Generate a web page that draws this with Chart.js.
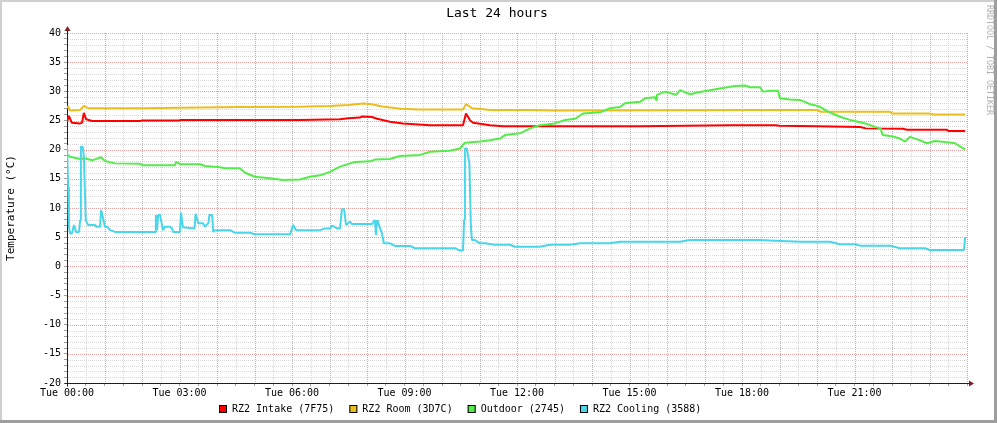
<!DOCTYPE html>
<html>
<head>
<meta charset="utf-8">
<title>Last 24 hours</title>
<script src="https://cdn.jsdelivr.net/npm/chart.js@4.4.1/dist/chart.umd.min.js"></script>
<style>
  html, body { margin: 0; padding: 0; background: #fff; }
  #wrap { width: 997px; height: 423px; }
</style>
</head>
<body>
<div id="wrap"><canvas id="chartCanvas" width="997" height="423"></canvas></div>
<script>
// Series: [hour of day, temperature in °C]
const intakeData = [
  [0, 24.8], [0.05, 25.8], [0.13, 24.6], [0.35, 24.5], [0.4, 24.6], [0.45, 26.3], [0.51, 25.2],
  [0.67, 24.9], [1.95, 24.9], [2.0, 25.0], [3.0, 25.0], [3.01, 25.1], [6.21, 25.1], [7.28, 25.2],
  [7.5, 25.4], [7.81, 25.5], [7.87, 25.7], [8.13, 25.6], [8.27, 25.3], [8.61, 24.8], [8.96, 24.5],
  [9.68, 24.2], [10.56, 24.2], [10.64, 26.2], [10.75, 25.0], [10.83, 24.6], [11.28, 24.2],
  [11.63, 24.0], [15.28, 24.0], [17.7, 24.2], [18.88, 24.2], [19.0, 24.1], [20.0, 24.0],
  [21.15, 23.9], [21.3, 23.65], [22.29, 23.6], [22.4, 23.4], [23.47, 23.4], [23.5, 23.2], [23.95, 23.2]
];
const roomData = [
  [0, 27.1], [0.03, 27.4], [0.08, 26.7], [0.35, 26.8], [0.45, 27.5], [0.56, 27.1], [1.95, 27.1],
  [3.0, 27.2], [4.6, 27.3], [6.2, 27.35], [7.0, 27.5], [7.5, 27.65], [7.9, 27.9], [8.13, 27.8],
  [8.4, 27.4], [8.9, 27.0], [9.4, 26.9], [10.56, 26.9], [10.64, 27.8], [10.8, 27.1], [11.3, 26.8],
  [12.35, 26.8], [13.0, 26.7], [18.5, 26.8], [20.0, 26.8], [20.1, 26.5], [21.95, 26.5],
  [22.0, 26.2], [23.0, 26.2], [23.1, 26.05], [23.95, 26.05]
];
const outdoorData = [
  [0, 19.1], [0.08, 18.8], [0.35, 18.4], [0.48, 18.5], [0.69, 18.2], [0.91, 18.7], [1.01, 18.05],
  [1.28, 17.65], [1.95, 17.6], [2.0, 17.35], [2.88, 17.35], [2.91, 17.9], [3.01, 17.55], [3.55, 17.5],
  [3.68, 17.2], [4.08, 17.0], [4.21, 16.8], [4.61, 16.8], [4.75, 16.05], [5.01, 15.35], [5.41, 15.1],
  [5.76, 14.8], [6.21, 14.9], [6.48, 15.35], [6.75, 15.6], [7.01, 16.2], [7.28, 17.1], [7.68, 17.9],
  [8.08, 18.0], [8.21, 18.3], [8.61, 18.4], [8.88, 18.9], [9.41, 19.1], [9.68, 19.65], [10.21, 19.8],
  [10.48, 20.2], [10.61, 21.2], [11.01, 21.4], [11.28, 21.6], [11.55, 21.9], [11.68, 22.5],
  [12.08, 22.8], [12.35, 23.65], [12.61, 24.2], [13.01, 24.5], [13.28, 25.1], [13.55, 25.3],
  [13.76, 26.2], [14.21, 26.4], [14.48, 27.1], [14.75, 27.3], [14.88, 27.95], [15.28, 28.2],
  [15.41, 28.8], [15.68, 29.0], [15.71, 28.5], [15.73, 29.4], [15.95, 29.95], [16.24, 29.4],
  [16.35, 30.2], [16.61, 29.5], [16.88, 29.9], [17.41, 30.5], [17.81, 30.9], [18.08, 31.0],
  [18.21, 30.7], [18.48, 30.7], [18.56, 29.95], [18.75, 30.1], [18.96, 30.1], [19.01, 28.8],
  [19.28, 28.6], [19.55, 28.5], [19.68, 28.2], [19.81, 27.8], [19.95, 27.6], [20.08, 27.35],
  [20.27, 26.6], [20.61, 25.65], [20.88, 25.1], [21.01, 24.9], [21.28, 24.5], [21.55, 23.9],
  [21.7, 23.6], [21.75, 22.5], [22.0, 22.3], [22.21, 21.9], [22.35, 21.4], [22.48, 22.2],
  [22.75, 21.6], [22.93, 21.1], [23.15, 21.5], [23.41, 21.3], [23.68, 21.1], [23.95, 20.0]
];
const coolingData = [
  [0, 20.8], [0.03, 13.6], [0.05, 6.8], [0.08, 5.65], [0.13, 5.65], [0.19, 7.1], [0.24, 5.9],
  [0.32, 5.9], [0.35, 7.9], [0.37, 20.5], [0.42, 20.5], [0.45, 18.8], [0.5, 7.9], [0.56, 7.1],
  [0.75, 7.1], [0.77, 6.8], [0.88, 6.8], [0.91, 9.65], [0.96, 8.3], [1.01, 6.8], [1.07, 6.8],
  [1.15, 6.2], [1.28, 5.9], [2.35, 5.9], [2.37, 8.8], [2.4, 6.2], [2.43, 8.8], [2.48, 8.8],
  [2.56, 6.2], [2.61, 6.8], [2.75, 6.8], [2.8, 6.5], [2.83, 5.9], [3.01, 5.9], [3.04, 9.2],
  [3.09, 6.7], [3.4, 6.5], [3.43, 9.0], [3.5, 7.4], [3.63, 7.4], [3.68, 6.8], [3.77, 7.4],
  [3.8, 8.8], [3.87, 8.8], [3.9, 5.9], [3.95, 6.2], [4.35, 6.2], [4.48, 5.75], [4.88, 5.75],
  [5.01, 5.5], [5.95, 5.5], [6.03, 7.1], [6.11, 6.2], [6.75, 6.2], [6.88, 6.5], [7.01, 6.5],
  [7.07, 7.0], [7.2, 6.5], [7.28, 6.5], [7.33, 9.8], [7.39, 9.8], [7.44, 7.1], [7.55, 7.65],
  [7.6, 7.25], [8.13, 7.25], [8.21, 7.95], [8.24, 5.4], [8.27, 7.9], [8.29, 7.6], [8.4, 5.6],
  [8.45, 3.95], [8.61, 3.95], [8.75, 3.5], [9.15, 3.5], [9.28, 3.1], [10.35, 3.1], [10.48, 2.7],
  [10.56, 2.7], [10.59, 8.0], [10.61, 20.2], [10.66, 20.2], [10.73, 17.6], [10.77, 6.8],
  [10.8, 4.5], [10.88, 4.5], [11.01, 3.95], [11.15, 3.95], [11.41, 3.7], [11.81, 3.7],
  [11.95, 3.35], [12.61, 3.35], [12.88, 3.7], [13.41, 3.7], [13.68, 3.95], [14.48, 3.95],
  [14.75, 4.2], [16.35, 4.2], [16.61, 4.5], [18.48, 4.5], [18.88, 4.4], [19.55, 4.2], [20.35, 4.2],
  [20.61, 3.8], [21.01, 3.8], [21.15, 3.55], [21.95, 3.55], [22.21, 3.1], [22.88, 3.1],
  [23.01, 2.8], [23.92, 2.8], [23.95, 5.0]
];

const seriesLabels = ['RZ2 Intake (7F75)', 'RZ2 Room (3D7C)', 'Outdoor (2745)', 'RZ2 Cooling (3588)'];
const seriesColors = ['#FF0000', '#EBBE1E', '#54EC48', '#48D6EA'];
const xTickHours = [0, 3, 6, 9, 12, 15, 18, 21];

const mono = 'DejaVu Sans Mono';
const minorGrid = '#d8d8d8';
const majorGrid = '#e6a0a0';

function hourLabel(h) {
  return 'Tue ' + String(h).padStart(2, '0') + ':00';
}

// dotted grid drawn as single pixels: minor every 30 min / 1 °C, major every hour / 5 °C
function drawGrid(chart) {
  const ctx = chart.ctx;
  const a = chart.chartArea;
  const xs = chart.scales.x, ys = chart.scales.y;
  const left = Math.round(a.left), right = Math.round(a.right);
  const top = Math.round(a.top), bottom = Math.round(a.bottom);
  ctx.save();
  for (let pass = 0; pass < 2; pass++) {
    const major = pass === 1;
    ctx.fillStyle = major ? majorGrid : minorGrid;
    for (let h = 1; h <= 48; h++) {
      if ((h % 2 === 0) !== major) continue;
      const px = Math.round(xs.getPixelForValue(h / 2));
      for (let y = top; y < bottom; y += 2) ctx.fillRect(px, y, 1, 1);
    }
    for (let v = ys.min + 1; v <= ys.max; v++) {
      if ((v % 5 === 0) !== major) continue;
      const py = Math.round(ys.getPixelForValue(v));
      for (let x = left + 1; x <= right; x += 2) ctx.fillRect(x, py, 1, 1);
    }
  }
  ctx.restore();
}

// Frame, grid, axes with arrows, title, legend and watermark in rrdtool style
const rrdDecor = {
  id: 'rrdDecor',
  beforeDraw(chart) {
    const ctx = chart.ctx;
    const w = chart.width, h = chart.height;
    ctx.save();
    ctx.fillStyle = '#ffffff';
    ctx.fillRect(0, 0, w, h);
    ctx.fillStyle = '#cfcfcf';
    ctx.fillRect(0, 0, w, 2);
    ctx.fillRect(0, 0, 2, h);
    ctx.fillStyle = '#9e9e9e';
    ctx.fillRect(w - 3, 0, 3, h);
    ctx.fillRect(0, h - 3, w, 3);
    ctx.restore();
  },
  beforeDatasetsDraw(chart) {
    drawGrid(chart);
    const ctx = chart.ctx;
    const a = chart.chartArea;
    const x0 = Math.round(a.left) + 0.5;
    const y0 = Math.round(a.bottom) + 0.5;
    ctx.save();
    ctx.strokeStyle = '#1f1f1f';
    ctx.lineWidth = 1;
    ctx.beginPath();
    ctx.moveTo(x0, y0 + 3);
    ctx.lineTo(x0, a.top - 3);
    ctx.moveTo(x0 - 3, y0);
    ctx.lineTo(a.right + 2, y0);
    ctx.stroke();
    ctx.fillStyle = '#801f1f';
    ctx.beginPath();
    ctx.moveTo(x0, a.top - 7);
    ctx.lineTo(x0 - 3, a.top - 2);
    ctx.lineTo(x0 + 3, a.top - 2);
    ctx.closePath();
    ctx.fill();
    ctx.beginPath();
    ctx.moveTo(a.right + 7, y0);
    ctx.lineTo(a.right + 2, y0 - 3);
    ctx.lineTo(a.right + 2, y0 + 3);
    ctx.closePath();
    ctx.fill();
    ctx.restore();
  },
  afterDraw(chart) {
    const ctx = chart.ctx;
    ctx.save();
    // title
    ctx.fillStyle = '#000';
    ctx.font = '13px "' + mono + '"';
    ctx.textAlign = 'center';
    ctx.textBaseline = 'middle';
    ctx.fillText('Last 24 hours', 497, 13.5);

    // legend
    ctx.font = '10px "' + mono + '"';
    ctx.textAlign = 'left';
    let x = 219;
    chart.data.datasets.forEach(ds => {
      ctx.fillStyle = ds.borderColor;
      ctx.fillRect(x, 405, 8, 8);
      ctx.strokeStyle = '#000';
      ctx.lineWidth = 1;
      ctx.strokeRect(x + 0.5, 405.5, 7, 7);
      ctx.fillStyle = '#000';
      ctx.fillText(ds.label, x + 13, 409.5);
      x += 13 + ctx.measureText(ds.label).width + 15;
    });

    // watermark
    ctx.translate(989.5, 5);
    ctx.rotate(Math.PI / 2);
    ctx.font = '8.3px "' + mono + '"';
    ctx.fillStyle = '#b0b0b0';
    ctx.textBaseline = 'middle';
    ctx.fillText('RRDTOOL / TOBI OETIKER', 0, 0);
    ctx.restore();
  }
};

const toPoints = arr => arr.map(p => ({ x: p[0], y: p[1] }));
const allSeries = [intakeData, roomData, outdoorData, coolingData];

const chartConfig = {
  type: 'line',
  data: {
    datasets: allSeries.map((s, i) => ({
      label: seriesLabels[i],
      data: toPoints(s),
      borderColor: seriesColors[i],
      backgroundColor: seriesColors[i],
      borderWidth: 2,
      borderJoinStyle: 'bevel',
      pointRadius: 0,
      tension: 0,
      fill: false,
      order: allSeries.length - i
    }))
  },
  options: {
    responsive: false,
    animation: false,
    events: [],
    layout: { padding: { left: 0, right: 30, top: 33, bottom: 0 } },
    plugins: {
      legend: { display: false },
      title: { display: false },
      tooltip: { enabled: false }
    },
    scales: {
      x: {
        type: 'linear',
        min: 0,
        max: 24,
        afterFit(scale) { scale.height = 40; },
        ticks: {
          stepSize: 0.5,
          autoSkip: false,
          maxRotation: 0,
          padding: 1,
          color: '#000',
          font: { family: mono, size: 10 },
          callback: v => (xTickHours.includes(v) ? hourLabel(v) : '')
        },
        grid: {
          drawOnChartArea: false,
          tickLength: 3,
          tickColor: '#a0a0a0'
        },
        border: { display: false }
      },
      y: {
        min: -20,
        max: 40,
        afterFit(scale) { scale.width = 67; },
        ticks: {
          stepSize: 1,
          autoSkip: false,
          padding: 3,
          color: '#000',
          font: { family: mono, size: 10 },
          callback: v => (v % 5 === 0 ? String(v) : '')
        },
        grid: {
          drawOnChartArea: false,
          tickLength: 3,
          tickColor: '#a0a0a0'
        },
        border: { display: false },
        title: {
          display: true,
          text: 'Temperature (°C)',
          color: '#000',
          font: { family: mono, size: 11 },
          padding: { top: 5, bottom: 0 }
        }
      }
    }
  },
  plugins: [rrdDecor]
};

const chartCanvas = document.getElementById('chartCanvas');
const tempChart = new Chart(chartCanvas.getContext('2d'), chartConfig);
</script>
</body>
</html>
